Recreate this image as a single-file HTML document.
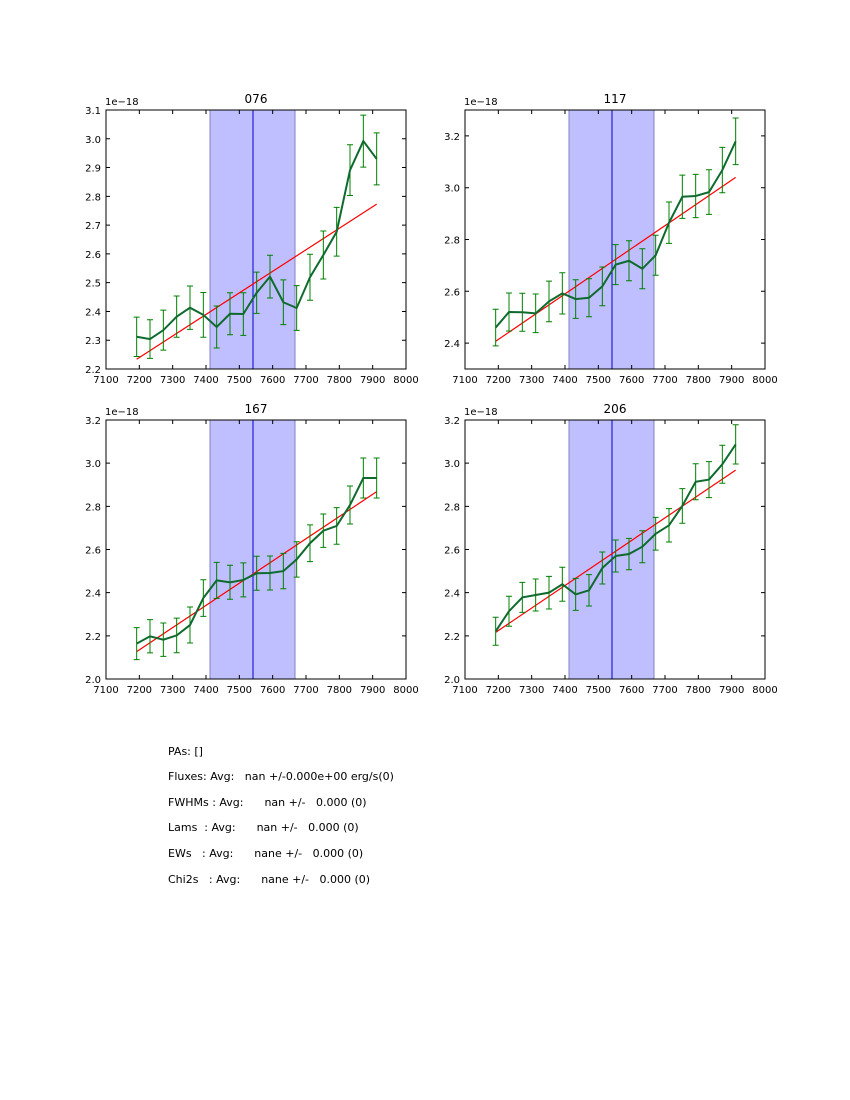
<!DOCTYPE html>
<html><head><meta charset="utf-8"><style>
body{margin:0;background:#fff;width:850px;height:1100px;overflow:hidden;font-family:"DejaVu Sans","Liberation Sans",sans-serif}
svg{position:absolute;left:0;top:0;font-family:"DejaVu Sans","Liberation Sans",sans-serif}
.info{position:absolute;left:168px;font-size:11px;white-space:pre;color:#000}
</style></head><body>
<svg id="fig" width="850" height="1100"></svg>
<div class="info" style="top:745px">PAs: []</div>
<div class="info" style="top:770px">Fluxes: Avg:   nan +/-0.000e+00 erg/s(0)</div>
<div class="info" style="top:796px">FWHMs : Avg:      nan +/-   0.000 (0)</div>
<div class="info" style="top:821px">Lams  : Avg:      nan +/-   0.000 (0)</div>
<div class="info" style="top:847px">EWs   : Avg:      nane +/-   0.000 (0)</div>
<div class="info" style="top:873px">Chi2s   : Avg:      nane +/-   0.000 (0)</div>
<script>
const xs=[7192,7232,7272,7312,7352,7392,7432,7472,7512,7552,7592,7632,7672,7712,7752,7792,7832,7872,7912];
const xTicks=[7100,7200,7300,7400,7500,7600,7700,7800,7900,8000];
const titles=["076","117","167","206"];
const y076=[2.312,2.304,2.335,2.382,2.413,2.388,2.346,2.392,2.391,2.465,2.521,2.432,2.412,2.519,2.596,2.677,2.891,2.992,2.930];
const e076=[59,58,60,62,65,67,63,63,64,62,64,67,67,69,72,73,76,78,78].map(v=>v/863);
const y117=[2.460,2.520,2.519,2.515,2.561,2.592,2.570,2.575,2.619,2.703,2.718,2.687,2.739,2.865,2.965,2.968,2.983,3.068,3.179];
const e117=[55,57,57,58,61,62,58,57,58,60,60,60,60,62,65,65,67,68,70].map(v=>v/777);
const y167=[2.164,2.198,2.182,2.202,2.250,2.375,2.457,2.448,2.459,2.490,2.491,2.500,2.554,2.629,2.687,2.709,2.806,2.931,2.931];
const e167=[48,50,50,52,54,55,54,51,51,51,51,53,53,55,50,55,57,60,60].map(v=>v/647.5);
const y206=[2.221,2.314,2.378,2.389,2.400,2.439,2.392,2.411,2.514,2.570,2.579,2.613,2.673,2.712,2.802,2.914,2.924,2.995,3.087];
const e206=[42,45,45,48,49,51,48,47,48,48,47,48,49,50,52,54,54,57,59].map(v=>v/647.5);
const fitStart=[2.234,2.407,2.127,2.216];
const fitEnd=[2.773,3.040,2.868,2.968];
const yMin=[2.2,2.3,2.0,2.0];
const yMax=[3.1,3.3,3.2,3.2];
const yTicks=[[2.2,2.3,2.4,2.5,2.6,2.7,2.8,2.9,3.0,3.1],[2.4,2.6,2.8,3.0,3.2],[2.0,2.2,2.4,2.6,2.8,3.0,3.2],[2.0,2.2,2.4,2.6,2.8,3.0,3.2]];
const band=[7412,7667];
const center=7541;
const ys=[y076,y117,y167,y206];
const es=[e076,e117,e167,e206];
const pos=[[106,110],[465,110],[106,420],[465,420]];
const W=300,H=259;
const svg=document.getElementById('fig');
const NS='http://www.w3.org/2000/svg';
function mk(tag,attrs,parent){const e=document.createElementNS(NS,tag);for(const k in attrs)e.setAttribute(k,attrs[k]);parent.appendChild(e);return e;}
for(let p=0;p<4;p++){
  const [L,T]=pos[p];
  const g=mk('g',{},svg);
  
  
  const X=v=>L+(v-7100)/900*W;
  const Y=v=>T+H-(v-yMin[p])/(yMax[p]-yMin[p])*H;
  const b=mk('rect',{x:X(band[0]),y:T,width:X(band[1])-X(band[0]),height:H,fill:'#bfbfff',stroke:'#8080c0','stroke-width':1},g);
  
  
  const c=mk('line',{x1:X(center),x2:X(center),y1:T,y2:T+H,stroke:'#0000cc','stroke-width':1},g);
  
  
  const f=mk('line',{x1:X(xs[0]),y1:Y(fitStart[p]),x2:X(xs[xs.length-1]),y2:Y(fitEnd[p]),stroke:'#ff0000','stroke-width':1.2},g);
  
  
  for(let i=0;i<xs.length;i++){
    const x=X(xs[i]),y1=Y(ys[p][i]-es[p][i]),y2=Y(ys[p][i]+es[p][i]);
    const eb=mk('path',{d:`M${x},${y1}V${y2}M${x-3},${y1}H${x+3}M${x-3},${y2}H${x+3}`,stroke:'#008000','stroke-width':1,fill:'none'},g);
    
    
  }
  const pl=mk('polyline',{points:xs.map((x,i)=>X(x)+','+Y(ys[p][i])).join(' '),fill:'none',stroke:'#0f6a2e','stroke-width':2},g);
  
  
  const fr=mk('rect',{x:L,y:T,width:W,height:H,fill:'none',stroke:'#000','stroke-width':1},g);
  
  
  xTicks.forEach(t=>{
    const x=X(t);
    mk('path',{d:`M${x},${T+H}v-4M${x},${T}v4`,stroke:'#000'},g);
    const tx=mk('text',{x:x,y:T+H+14,'font-size':10,'text-anchor':'middle'},g);
    tx.textContent=t;
    
    
  });
  yTicks[p].forEach(t=>{
    const y=Y(t);
    mk('path',{d:`M${L},${y}h4M${L+W},${y}h-4`,stroke:'#000'},g);
    const ty=mk('text',{x:L-5,y:y+4,'font-size':10,'text-anchor':'end'},g);
    ty.textContent=t.toFixed(1);
    
    
  });
  const ex=mk('text',{x:L-1,y:T-5,'font-size':10},g);
  ex.textContent='1e\u221218';
  
  
  const tt=mk('text',{x:L+W/2,y:T-7,'font-size':12,'text-anchor':'middle'},g);
  tt.textContent=titles[p];
  
  
}
</script>
</body></html>
